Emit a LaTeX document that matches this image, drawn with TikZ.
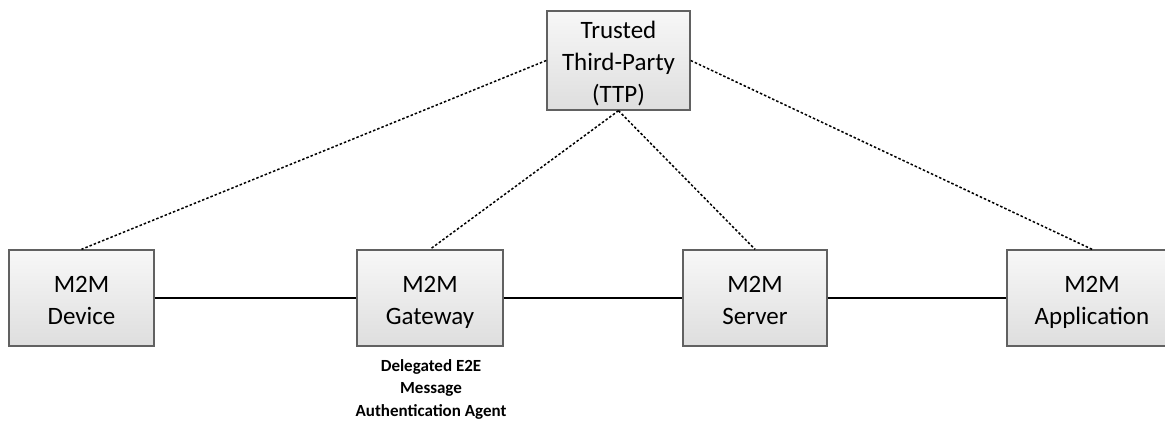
\documentclass[tikz,border=0pt]{standalone}
\usepackage{fontspec}
\setmainfont{Carlito}
\newcommand\toprule{\rule{0pt}{28pt}}
\newcommand\botrule{\rule[-7pt]{0pt}{7pt}}
\begin{document}
\begin{tikzpicture}[x=1pt,y=-1pt,
  box/.style={draw=black!62, line width=1.4pt, top color=white!97!black, bottom color=white!87!black,
    minimum height=96pt, inner sep=0pt, align=center, font=\fontsize{25}{32}\selectfont},
  link/.style={line width=1.8pt, black},
  dotlink/.style={line width=1.5pt, black, dash pattern=on 2.5pt off 2pt}]
\useasboundingbox (0,0) rectangle (1165,422);
\node[box, minimum width=143pt, minimum height=95pt] (ttp) at (618.5,60.5) {\toprule Trusted\\Third-Party\\(TTP)\botrule};
\node[box, minimum width=145pt] (dev) at (81.5,298) {\toprule M2M\\Device\botrule};
\node[box, minimum width=146pt] (gw) at (430,298) {\toprule M2M\\Gateway\botrule};
\node[box, minimum width=144pt] (srv) at (755,298) {\toprule M2M\\Server\botrule};
\node[box, minimum width=170pt] (app) at (1092,298) {\toprule M2M\\Application\botrule};
\draw[link] (dev.east) -- (gw.west);
\draw[link] (gw.east) -- (srv.west);
\draw[link] (srv.east) -- (app.west);
\draw[dotlink] (ttp.west) -- (dev.north);
\draw[dotlink] (ttp.south) -- (gw.north);
\draw[dotlink] (ttp.south) -- (srv.north);
\draw[dotlink] (ttp.east) -- (app.north);
\node[anchor=north, inner sep=0pt, align=center, font=\fontsize{17}{22.5}\selectfont\bfseries] (lbl) at (431,359)
  {Delegated E2E\\Message\\Authentication Agent};
\end{tikzpicture}
\end{document}
